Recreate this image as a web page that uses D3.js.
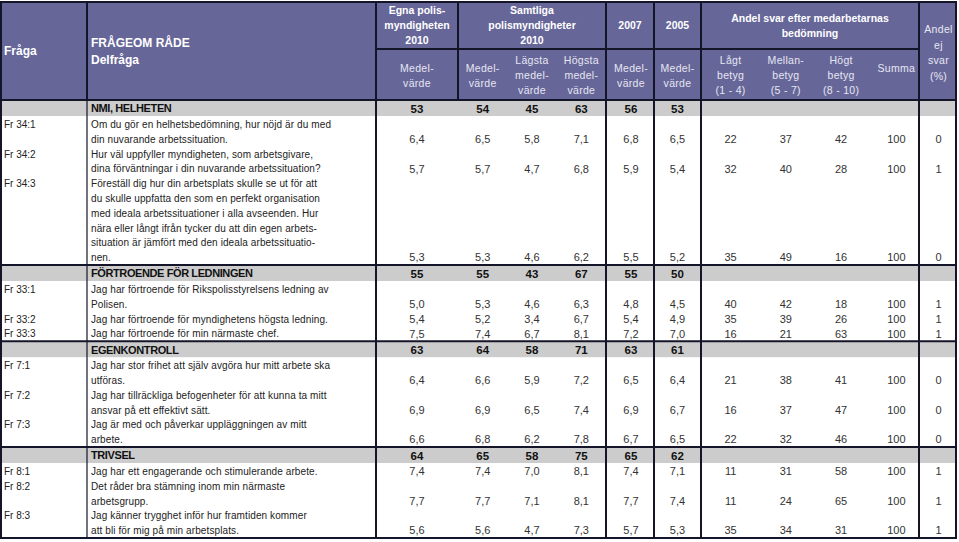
<!DOCTYPE html>
<html><head><meta charset="utf-8">
<script src="https://cdn.jsdelivr.net/npm/d3@7"></script>
<style>
html,body{margin:0;padding:0;background:#fff;}
svg{display:block;font-family:"Liberation Sans",Arial,sans-serif;}
</style></head>
<body><svg id="c" width="959" height="542"></svg>
<script>
// ---------- DATA ----------
const rowType = ["s","q","q","q","s","q","q","q","s","q","q","q","s","q","q","q"];
const fragaIds = ["","Fr 34:1","Fr 34:2","Fr 34:3","","Fr 33:1","Fr 33:2","Fr 33:3","","Fr 7:1","Fr 7:2","Fr 7:3","","Fr 8:1","Fr 8:2","Fr 8:3"];
const questionText = [
  ["NMI,  HELHETEN"],
  ["Om du gör en helhetsbedömning, hur nöjd är du med","din nuvarande arbetssituation."],
  ["Hur väl uppfyller myndigheten, som arbetsgivare,","dina förväntningar i din nuvarande arbetssituation?"],
  ["Föreställ dig hur din arbetsplats skulle se ut för att","du skulle uppfatta den som en perfekt organisation","med ideala arbetssituationer i alla avseenden. Hur","nära eller långt ifrån tycker du att din egen arbets-","situation är jämfört med den ideala arbetssituatio-","nen."],
  ["FÖRTROENDE FÖR LEDNINGEN"],
  ["Jag har förtroende för Rikspolisstyrelsens ledning av","Polisen."],
  ["Jag har förtroende för myndighetens högsta ledning."],
  ["Jag har förtroende för min närmaste chef."],
  ["EGENKONTROLL"],
  ["Jag har stor frihet att själv avgöra hur mitt arbete ska","utföras."],
  ["Jag har tillräckliga befogenheter för att kunna ta mitt","ansvar på ett effektivt sätt."],
  ["Jag är med och påverkar uppläggningen av mitt","arbete."],
  ["TRIVSEL"],
  ["Jag har ett engagerande och stimulerande arbete."],
  ["Det råder bra stämning inom min närmaste","arbetsgrupp."],
  ["Jag känner trygghet inför hur framtiden kommer","att bli för mig på min arbetsplats."]
];
const egnaMedel     = [53,6.4,5.7,5.3,55,5.0,5.4,7.5,63,6.4,6.9,6.6,64,7.4,7.7,5.6];
const samtligaMedel = [54,6.5,5.7,5.3,55,5.3,5.2,7.4,64,6.6,6.9,6.8,65,7.4,7.7,5.6];
const lagstaMedel   = [45,5.8,4.7,4.6,43,4.6,3.4,6.7,58,5.9,6.5,6.2,58,7.0,7.1,4.7];
const hogstaMedel   = [63,7.1,6.8,6.2,67,6.3,6.7,8.1,71,7.2,7.4,7.8,75,8.1,8.1,7.3];
const medel2007     = [56,6.8,5.9,5.5,55,4.8,5.4,7.2,63,6.5,6.9,6.7,65,7.4,7.7,5.7];
const medel2005     = [53,6.5,5.4,5.2,50,4.5,4.9,7.0,61,6.4,6.7,6.5,62,7.1,7.4,5.3];
const lagtBetyg     = [null,22,32,35,null,40,35,16,null,21,16,22,null,11,11,35];
const mellanBetyg   = [null,37,40,49,null,42,39,21,null,38,37,32,null,31,24,34];
const hogtBetyg     = [null,42,28,16,null,18,26,63,null,41,47,46,null,58,65,31];
const summa         = [null,100,100,100,null,100,100,100,null,100,100,100,null,100,100,100];
const ejSvar        = [null,0,1,0,null,1,1,1,null,0,0,0,null,1,1,1];

// ---------- LAYOUT ----------
const svg = d3.select("#c");
const HEAD = "#666699", LINE = "#15152a", GRAY = "#cccccc";
const xL=1, xQ=87, xEgna=376, xSam=458, x07=606, x05=654, xAnd=701, xEj=919, xR=956;
const yTop=2, yHead=100, yMid=49;
const lh=14.8, secH=17;

const samX = d3.scaleBand().domain(["m","l","h"]).range([xSam,x07]);
const andX = d3.scaleBand().domain(["lagt","mellan","hogt","summa"]).range([703,924]);
const colDefs = [
  {arr:egnaMedel, x:(xEgna+xSam)/2},
  {arr:samtligaMedel, x:samX("m")+samX.bandwidth()/2},
  {arr:lagstaMedel, x:samX("l")+samX.bandwidth()/2},
  {arr:hogstaMedel, x:samX("h")+samX.bandwidth()/2},
  {arr:medel2007, x:(x07+x05)/2+1},
  {arr:medel2005, x:(x05+xAnd)/2},
  {arr:lagtBetyg, x:andX("lagt")+andX.bandwidth()/2},
  {arr:mellanBetyg, x:andX("mellan")+andX.bandwidth()/2},
  {arr:hogtBetyg, x:andX("hogt")+andX.bandwidth()/2},
  {arr:summa, x:andX("summa")+andX.bandwidth()/2},
  {arr:ejSvar, x:(xEj+xR)/2+1}
];

// row positions
const rows = [];
let y = yHead;
rowType.forEach((t,i)=>{
  const h = t==="s" ? secH : questionText[i].length*lh;
  rows.push({i, t, y0:y, h});
  y += h;
});
const yBottom = y;

const locale = d3.formatLocale({decimal:",", thousands:" ", grouping:[3], currency:["",""]});
const f1 = locale.format(".1f"), f0 = locale.format("d");

// header background
svg.append("rect").attr("x",xL).attr("y",yTop).attr("width",xR-xL).attr("height",yHead-yTop).attr("fill",HEAD);

// section gray bands
rows.filter(r=>r.t==="s").forEach(r=>{
  svg.append("rect").attr("x",xL).attr("y",r.y0).attr("width",xR-xL).attr("height",r.h-1).attr("fill",GRAY);
});

// header texts
const hg = svg.append("g").attr("fill","#fff");
function htext(lines,x,y0,step,opts={}){
  const t = hg.append("text").attr("x",x).attr("y",y0)
    .attr("text-anchor",opts.anchor||"middle")
    .attr("font-size",opts.size||10.5)
    .attr("font-weight",opts.bold?"bold":"normal")
    .attr("fill",opts.fill||"#fff")
    .attr("letter-spacing",opts.ls||0);
  lines.forEach((l,k)=>t.append("tspan").attr("x",x).attr("y",y0+k*step).text(l));
}
htext(["Fråga"],4,55,0,{anchor:"start",bold:true,size:12});
htext(["FRÅGEOM RÅDE","Delfråga"],91,47,17,{anchor:"start",bold:true,size:12});
htext(["Egna polis-","myndigheten","2010"],(xEgna+xSam)/2,14,15,{bold:true,size:10.5});
htext(["Samtliga","polismyndigheter","2010"],(xSam+x07)/2,14,15,{bold:true,size:10.5});
htext(["2007"],(x07+x05)/2,29,0,{bold:true,size:10.5});
htext(["2005"],(x05+xAnd)/2,29,0,{bold:true,size:10.5});
htext(["Andel svar efter medarbetarnas","bedömning"],(xAnd+xEj)/2,22,15,{bold:true,size:10.5});
const sub = {size:10.5, fill:"#e6e6f2", ls:0.3};
htext(["Andel","ej","svar","(%)"],(xEj+xR)/2+1,33,15.5,sub);
htext(["Medel-","värde"],(xEgna+xSam)/2,72,15,sub);
htext(["Medel-","värde"],colDefs[1].x,72,15,sub);
htext(["Lägsta","medel-","värde"],colDefs[2].x,64,15,sub);
htext(["Högsta","medel-","värde"],colDefs[3].x,64,15,sub);
htext(["Medel-","värde"],colDefs[4].x,72,15,sub);
htext(["Medel-","värde"],colDefs[5].x,72,15,sub);
htext(["Lågt","betyg","(1 - 4)"],colDefs[6].x,64,15,sub);
htext(["Mellan-","betyg","(5 - 7)"],colDefs[7].x,64,15,sub);
htext(["Högt","betyg","(8 - 10)"],colDefs[8].x,64,15,sub);
htext(["Summa"],colDefs[9].x,72,0,sub);

// body texts
const bg = svg.append("g").attr("fill","#222");
rows.forEach(r=>{
  const i=r.i;
  const lines = questionText[i];
  if(r.t==="s"){
    const cy = r.y0 + secH/2;
    bg.append("text").attr("x",91).attr("y",cy).attr("dy","0.35em")
      .attr("font-size",11).attr("font-weight","bold").attr("fill","#111").attr("letter-spacing",-0.4)
      .text(lines[0]);
    colDefs.forEach(c=>{
      if(c.arr[i]==null) return;
      bg.append("text").attr("x",c.x).attr("y",cy).attr("dy","0.35em").attr("text-anchor","middle")
        .attr("font-size",11.5).attr("font-weight","bold").attr("fill","#111").text(f0(c.arr[i]));
    });
  } else {
    bg.append("text").attr("x",4).attr("y",r.y0+lh/2).attr("dy","0.35em")
      .attr("font-size",10).text(fragaIds[i]);
    lines.forEach((l,k)=>{
      bg.append("text").attr("x",91).attr("y",r.y0+(k+0.5)*lh).attr("dy","0.35em")
        .attr("font-size",10).attr("letter-spacing",0.1).text(l);
    });
    const vy = r.y0 + (lines.length-0.5)*lh;
    colDefs.forEach((c,ci)=>{
      if(c.arr[i]==null) return;
      bg.append("text").attr("x",c.x).attr("y",vy).attr("dy","0.35em").attr("text-anchor","middle")
        .attr("font-size",11).attr("fill","#333").text(ci<6?f1(c.arr[i]):f0(c.arr[i]));
    });
  }
});

// grid lines
const gl = svg.append("g").attr("stroke",LINE).attr("fill","none");
function hl(x1,x2,yy,w){gl.append("line").attr("x1",x1).attr("x2",x2).attr("y1",yy).attr("y2",yy).attr("stroke-width",w);}
function vl(xx,y1,y2,w){gl.append("line").attr("x1",xx).attr("x2",xx).attr("y1",y1).attr("y2",y2).attr("stroke-width",w);}
hl(xL-1,xR+1,yTop,2);
hl(xEgna,xEj,yMid,2);
hl(xL-1,xR+1,yHead,2);
rows.filter(r=>r.t==="s" && r.i>0).forEach(r=>hl(xL-1,xR+1,r.y0,2));
hl(xL-1,xR+1,yBottom,2);
vl(xL,yTop,yBottom,2);
vl(xR,yTop,yBottom,2);
vl(xQ,yTop,yHead,2);
vl(xQ,yHead,yBottom,1.2);
[xEgna,x07,x05,xAnd,xEj].forEach(xx=>vl(xx,yTop,yBottom,2));
vl(xSam,yTop,yHead,2);
</script></body></html>
